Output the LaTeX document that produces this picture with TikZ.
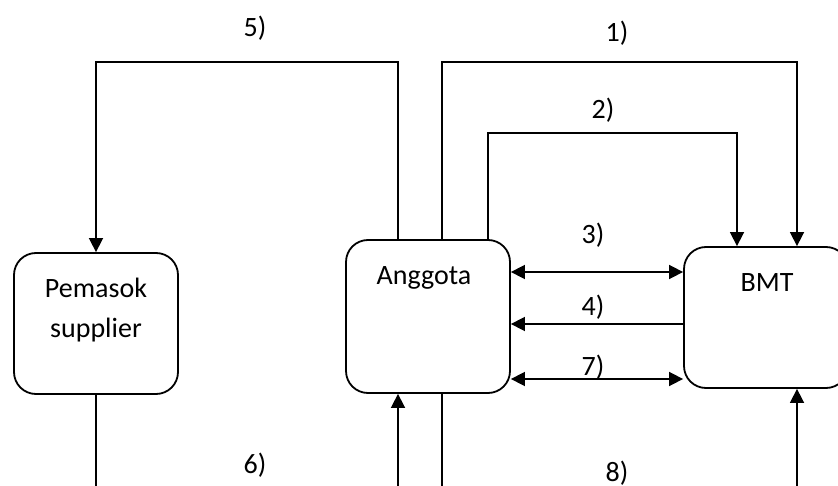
\documentclass[tikz,border=0pt]{standalone}
\usepackage{fontspec}
\setmainfont{Carlito}
\usetikzlibrary{arrows.meta}
\tikzset{
  box/.style={draw, rounded corners=22pt, minimum width=164pt, line width=1.8pt, inner sep=0pt},
  lbl/.style={font=\fontsize{28}{40}\selectfont, inner sep=0pt, align=center},
  link/.style={line width=1.6pt},
  thin/.style={line width=1.2pt},
  tip/.style={-{Triangle[length=14pt,width=14pt]}},
  tips/.style={{Triangle[length=14pt,width=14pt]}-{Triangle[length=14pt,width=14pt]}},
}
\begin{document}
\begin{tikzpicture}[x=1pt,y=-1pt]
\path[use as bounding box] (0,0) rectangle (838,486);
\clip (0,0) rectangle (838,486);

% the three parties
\node[box, minimum height=141pt] (pem) at (96,323.5) {};
\node[box, minimum height=153pt] (ang) at (428,316.5) {};
\node[box, minimum height=141pt] (bmt) at (766,317.5) {};
\node[lbl] (pemtxt) at (96,310) {Pemasok\\supplier};
\node[lbl] (angtxt) at (424,278) {Anggota};
\node[lbl] (bmttxt) at (767,283) {BMT};

% free ends at the lower border
\coordinate (pemdown) at (96,490);
\coordinate (angup) at (398,490);
\coordinate (angdown) at (442,490);
\coordinate (bmtup) at (797,490);

% upper loops
\draw[link, tip] (398,0 |- ang.north) -- (398,62) -| (pem.north);
\draw[link, tip] (442,0 |- ang.north) -- (442,62) -| (797,0 |- bmt.north);
\draw[link, tip] (488,0 |- ang.north) -- (488,133) -| (737,0 |- bmt.north);

% flows between Anggota and BMT
\draw[link, tips] (ang.east |- 0,272) -- (bmt.west |- 0,272);
\draw[link, tip] (bmt.west |- 0,324) -- (ang.east |- 0,324);
\draw[link, tips] (ang.east |- 0,379) -- (bmt.west |- 0,379);

% lower connections
\draw[thin] (pem.south) -- (pemdown);
\draw[link, tip] (angup) -- (398,0 |- ang.south);
\draw[thin] (442,0 |- ang.south) -- (angdown);
\draw[link, tip] (bmtup) -- (797,0 |- bmt.south);

% step numbers
\node[lbl] (n5) at (255,28) {5)};
\node[lbl] (n1) at (617,33) {1)};
\node[lbl] (n2) at (603,110) {2)};
\node[lbl] (n3) at (593,235) {3)};
\node[lbl] (n4) at (593,307) {4)};
\node[lbl] (n7) at (593,367) {7)};
\node[lbl] (n6) at (255,465) {6)};
\node[lbl] (n8) at (617,473) {8)};
\end{tikzpicture}
\end{document}
